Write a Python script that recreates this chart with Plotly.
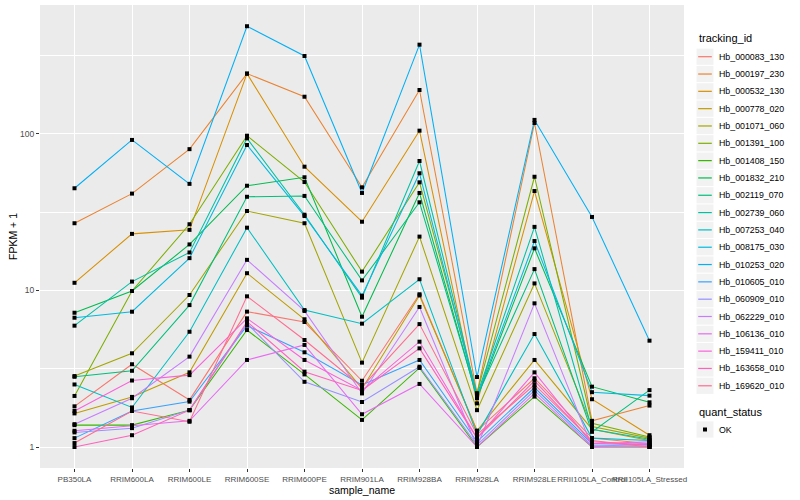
import plotly.graph_objects as go

sample_name = ["PB350LA", "RRIM600LA", "RRIM600LE", "RRIM600SE", "RRIM600PE",
               "RRIM901LA", "RRIM928BA", "RRIM928LA", "RRIM928LE",
               "RRII105LA_Control", "RRII105LA_Stressed"]

tracking_id = ["Hb_000083_130", "Hb_000197_230", "Hb_000532_130", "Hb_000778_020",
               "Hb_001071_060", "Hb_001391_100", "Hb_001408_150", "Hb_001832_210",
               "Hb_002119_070", "Hb_002739_060", "Hb_007253_040", "Hb_008175_030",
               "Hb_010253_020", "Hb_010605_010", "Hb_060909_010", "Hb_062229_010",
               "Hb_106136_010", "Hb_159411_010", "Hb_163658_010", "Hb_169620_010"]

# FPKM + 1 per sample, one list per gene
hb_000083_130 = [1.82, 3.38, 2.0, 7.33, 6.29, 2.65, 9.46, 1.27, 2.75, 1.14, 1.05]
hb_000197_230 = [26.9, 41.6, 80, 243, 173, 45.6, 191, 2.2, 117.5, 1.47, 1.84]
hb_000532_130 = [11.2, 23, 24.4, 243, 61.8, 27.5, 105, 1.9, 43.2, 2.02, 1.19]
hb_000778_020 = [1.64, 2.09, 3.0, 12.9, 6.55, 2.36, 9.3, 1.27, 3.6, 1.3, 1.1]
hb_001071_060 = [2.84, 3.97, 9.36, 32.2, 26.9, 3.46, 22.1, 1.72, 11.1, 1.35, 1.14]
hb_001391_100 = [2.12, 9.93, 26.5, 97.5, 49.3, 13.2, 49.1, 2.2, 53.3, 1.42, 1.16]
hb_001408_150 = [1.38, 1.38, 1.72, 5.59, 2.91, 1.49, 3.2, 1.0, 2.1, 1.0, 1.0]
hb_001832_210 = [7.21, 9.93, 19.7, 46.7, 52.9, 6.8, 42, 2.05, 18.6, 2.43, 1.93]
hb_002119_070 = [2.81, 3.07, 8.07, 39.7, 40.2, 11.6, 36.6, 2.1, 13.7, 1.25, 2.31]
hb_002739_060 = [5.96, 11.4, 17.5, 93.8, 30.5, 9.0, 67.2, 2.15, 25.5, 1.3, 1.12]
hb_007253_040 = [2.51, 1.79, 5.45, 25.2, 7.5, 6.14, 11.8, 1.2, 5.27, 1.14, 1.1]
hb_008175_030 = [6.70, 7.32, 16.1, 85, 29.9, 9.27, 56.1, 2.1, 20.7, 2.24, 2.13]
hb_010253_020 = [45, 91.6, 48, 488, 315, 42, 372, 2.8, 123, 29.5, 4.78]
hb_010605_010 = [1.14, 1.70, 1.95, 5.96, 4.03, 2.49, 3.6, 1.08, 2.4, 1.05, 1.04]
hb_060909_010 = [1.24, 1.32, 1.72, 6.17, 2.61, 1.94, 3.26, 1.03, 2.3, 1.02, 1.02]
hb_062229_010 = [1.40, 2.05, 3.78, 15.7, 7.4, 2.2, 7.85, 1.0, 8.28, 1.0, 1.06]
hb_106136_010 = [1.27, 1.36, 1.47, 3.6, 4.49, 1.62, 2.53, 1.0, 2.2, 1.0, 1.0]
hb_159411_010 = [1.70, 2.66, 2.88, 6.64, 3.6, 2.3, 4.71, 1.14, 3.0, 1.05, 1.08]
hb_163658_010 = [1.0, 1.19, 1.72, 6.32, 3.03, 2.3, 4.27, 1.14, 2.65, 1.08, 1.03]
hb_169620_010 = [1.06, 1.70, 1.45, 9.18, 4.83, 2.42, 6.1, 1.2, 2.5, 1.1, 1.0]

series = [hb_000083_130, hb_000197_230, hb_000532_130, hb_000778_020, hb_001071_060,
          hb_001391_100, hb_001408_150, hb_001832_210, hb_002119_070, hb_002739_060,
          hb_007253_040, hb_008175_030, hb_010253_020, hb_010605_010, hb_060909_010,
          hb_062229_010, hb_106136_010, hb_159411_010, hb_163658_010, hb_169620_010]

colors = ["#F8766D", "#EA8331", "#D89000", "#C09B00", "#A3A500", "#7CAE00", "#39B600",
          "#00BB4E", "#00BF7D", "#00C1A3", "#00BFC4", "#00BAE0", "#00B0F6", "#35A2FF",
          "#9590FF", "#C77CFF", "#E76BF3", "#FA62DB", "#FF62BC", "#FF6C91"]

quant_status = ["OK"]

FONT = "Liberation Sans, Arial, sans-serif"
W, H = 800, 500
ML, MR, MT, MB = 40, 116, 5, 32
PW, PH = W - ML - MR, H - MT - MB


def px(xp):
    return (xp - ML) / PW


def py(yp):
    return (H - MB - yp) / PH


fig = go.Figure()
for name, vals, col in zip(tracking_id, series, colors):
    fig.add_trace(go.Scatter(
        x=sample_name, y=vals, mode="lines", name=name,
        line=dict(color=col, width=1.05), showlegend=False,
    ))

all_x = [s for _ in series for s in sample_name]
all_y = [v for vals in series for v in vals]
fig.add_trace(go.Scatter(
    x=all_x, y=all_y, mode="markers", name=quant_status[0],
    marker=dict(color="black", size=4, symbol="square"), showlegend=False,
))

# ---- hand-built ggplot-style legend ----
shapes, annots = [], []
LX0, LX1 = 696.5, 713.5
TX = 716.5
annots.append(dict(text="tracking_id", x=px(697), y=py(38), xref="paper", yref="paper",
                   xanchor="left", yanchor="middle", showarrow=False,
                   font=dict(size=11, color="black")))
STEP = 17.32
for i, (name, col) in enumerate(zip(tracking_id, colors)):
    cy = 56.7 + i * STEP
    shapes.append(dict(type="rect", xref="paper", yref="paper",
                       x0=px(LX0), x1=px(LX1), y0=py(cy - 8.1), y1=py(cy + 8.1),
                       fillcolor="#F2F2F2", line=dict(width=0), layer="above"))
    shapes.append(dict(type="line", xref="paper", yref="paper",
                       x0=px(LX0 + 1.7), x1=px(LX1 - 1.7), y0=py(cy), y1=py(cy),
                       line=dict(color=col, width=1.2), layer="above"))
    annots.append(dict(text=name, x=px(TX), y=py(cy), xref="paper", yref="paper",
                       xanchor="left", yanchor="middle", showarrow=False,
                       font=dict(size=8.8, color="black")))

annots.append(dict(text="quant_status", x=px(697), y=py(412.3), xref="paper", yref="paper",
                   xanchor="left", yanchor="middle", showarrow=False,
                   font=dict(size=11, color="black")))
cy = 429.5
shapes.append(dict(type="rect", xref="paper", yref="paper",
                   x0=px(LX0), x1=px(LX1), y0=py(cy - 8.1), y1=py(cy + 8.1),
                   fillcolor="#F2F2F2", line=dict(width=0), layer="above"))
shapes.append(dict(type="rect", xref="paper", yref="paper",
                   x0=px(703), x1=px(707), y0=py(cy - 2), y1=py(cy + 2),
                   fillcolor="black", line=dict(width=0), layer="above"))
annots.append(dict(text=quant_status[0], x=px(TX), y=py(cy), xref="paper", yref="paper",
                   xanchor="left", yanchor="middle", showarrow=False,
                   font=dict(size=8.8, color="black")))

fig.update_layout(
    width=W, height=H,
    margin=dict(l=ML, r=MR, t=MT, b=MB),
    paper_bgcolor="white", plot_bgcolor="#EBEBEB",
    font=dict(family=FONT, size=9, color="#4D4D4D"),
    showlegend=False,
    shapes=shapes, annotations=annots,
    xaxis=dict(
        type="category", range=[-0.6, 10.6], tickangle=0, automargin=False,
        showgrid=True, gridcolor="white", gridwidth=1.1,
        ticks="outside", ticklen=3, tickcolor="#333333",
        tickfont=dict(size=8, color="#4D4D4D"), zeroline=False, showline=False,
        title=dict(text="sample_name", font=dict(size=10.5, color="black"), standoff=0),
    ),
    yaxis=dict(
        type="log", range=[-0.134, 2.824], automargin=False,
        tickvals=[1, 10, 100], ticktext=["1", "10", "100"],
        showgrid=True, gridcolor="white", gridwidth=1.1,
        minor=dict(tickvals=[3.1623, 31.623, 316.23], showgrid=True,
                   gridcolor="white", gridwidth=0.5, ticks=""),
        ticks="outside", ticklen=3, tickcolor="#333333",
        tickfont=dict(size=8.5, color="#4D4D4D"), zeroline=False, showline=False,
        title=dict(text="FPKM + 1", font=dict(size=10.5, color="black"), standoff=0),
    ),
)

fig.write_html("out.html",
               config={"displayModeBar": False},
               post_script="document.body.style.margin='0px';"
                           "document.body.style.padding='0px';")
